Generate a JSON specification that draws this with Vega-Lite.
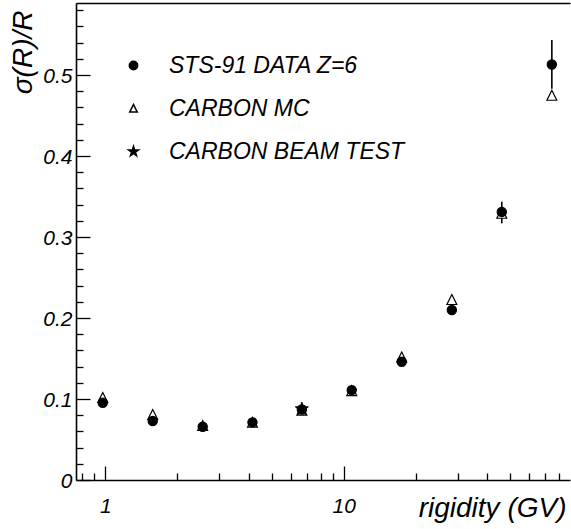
{
  "$schema": "https://vega.github.io/schema/vega-lite/v6.json",
  "width": 494,
  "height": 477,
  "autosize": {"type": "none"},
  "padding": {"left": 76, "top": 3, "right": 1, "bottom": 49},
  "background": "white",
  "config": {
    "view": {"stroke": null},
    "font": "Liberation Sans",
    "axis": {"grid": false, "domainColor": "black", "domainWidth": 1.6, "tickColor": "black", "tickWidth": 1.3, "labelColor": "black", "titleColor": "black", "labelFont": "Liberation Sans", "titleFont": "Liberation Sans"},
    "legend": {"title": null, "orient": "top-left", "offset": 51, "labelFontSize": 23, "labelFontStyle": "italic", "labelColor": "black", "labelOffset": 24, "symbolOffset": -5, "rowPadding": 19, "symbolSize": 70, "labelLimit": 400}
  },
  "datasets": {
    "pts": [
      {"series": "CARBON MC", "R": 0.975, "v": 0.1015},
      {"series": "CARBON MC", "R": 1.58, "v": 0.0805},
      {"series": "CARBON MC", "R": 2.56, "v": 0.067},
      {"series": "CARBON MC", "R": 4.14, "v": 0.071},
      {"series": "CARBON MC", "R": 6.67, "v": 0.086},
      {"series": "CARBON MC", "R": 10.8, "v": 0.110},
      {"series": "CARBON MC", "R": 17.5, "v": 0.1516},
      {"series": "CARBON MC", "R": 28.4, "v": 0.2225},
      {"series": "CARBON MC", "R": 46.0, "v": 0.329},
      {"series": "CARBON MC", "R": 74.6, "v": 0.4747},
      {"series": "STS-91 DATA Z=6", "R": 0.975, "v": 0.0954},
      {"series": "STS-91 DATA Z=6", "R": 1.58, "v": 0.0728},
      {"series": "STS-91 DATA Z=6", "R": 2.56, "v": 0.0658},
      {"series": "STS-91 DATA Z=6", "R": 4.14, "v": 0.0712},
      {"series": "STS-91 DATA Z=6", "R": 6.67, "v": 0.087},
      {"series": "STS-91 DATA Z=6", "R": 10.8, "v": 0.111},
      {"series": "STS-91 DATA Z=6", "R": 17.5, "v": 0.146},
      {"series": "STS-91 DATA Z=6", "R": 28.4, "v": 0.2099},
      {"series": "STS-91 DATA Z=6", "R": 46.0, "v": 0.331},
      {"series": "STS-91 DATA Z=6", "R": 74.6, "v": 0.513},
      {"series": "CARBON BEAM TEST", "R": 6.67, "v": 0.0877}
    ],
    "err": [
      {"R": 46.0, "lo": 0.3169, "hi": 0.3436},
      {"R": 74.6, "lo": 0.483, "hi": 0.5432}
    ]
  },
  "resolve": {"axis": {"x": "independent", "y": "independent"}},
  "layer": [
    {
      "data": {"name": "pts"},
      "mark": {"type": "point", "opacity": 0},
      "encoding": {
        "x": {"field": "R", "type": "quantitative", "scale": {"type": "log", "domain": [0.753, 88.9], "nice": false},
          "axis": {"orient": "bottom", "values": [0.8, 0.9, 2, 3, 4, 5, 6, 7, 8, 9, 20, 30, 40, 50, 60, 70, 80], "tickSize": -7, "labels": false, "domain": false, "title": null}},
        "y": {"field": "v", "type": "quantitative", "scale": {"domain": [0, 0.589], "nice": false, "zero": false},
          "axis": {"orient": "left", "values": [0.02, 0.04, 0.06, 0.08, 0.12, 0.14, 0.16, 0.18, 0.22, 0.24, 0.26, 0.28, 0.32, 0.34, 0.36, 0.38, 0.42, 0.44, 0.46, 0.48, 0.52, 0.54, 0.56, 0.58], "tickSize": -7, "labels": false, "domain": false, "title": null}}
      }
    },
    {
      "data": {"name": "pts"},
      "mark": {"type": "point", "opacity": 0},
      "encoding": {
        "x": {"field": "R", "type": "quantitative", "scale": {"type": "log", "domain": [0.753, 88.9], "nice": false},
          "axis": {"orient": "bottom", "values": [1, 10], "tickSize": -14, "labels": false, "domain": false, "title": null}},
        "y": {"field": "v", "type": "quantitative", "scale": {"domain": [0, 0.589], "nice": false, "zero": false},
          "axis": {"orient": "left", "values": [0, 0.1, 0.2, 0.3, 0.4, 0.5], "tickSize": -14, "labels": false, "domain": false, "title": null}}
      }
    },
    {
      "data": {"name": "err"},
      "mark": {"type": "rule", "color": "black", "strokeWidth": 1.6},
      "encoding": {
        "x": {"field": "R", "type": "quantitative", "scale": {"type": "log", "domain": [0.753, 88.9], "nice": false},
          "axis": {"orient": "top", "ticks": false, "labels": false, "domain": true, "title": null}},
        "y": {"field": "lo", "type": "quantitative", "scale": {"domain": [0, 0.589], "nice": false, "zero": false}, "axis": null},
        "y2": {"field": "hi"}
      }
    },
    {
      "data": {"name": "pts"},
      "transform": [{"filter": "datum.series === 'CARBON MC'"}],
      "mark": {"type": "point", "filled": true, "size": 121, "strokeWidth": 1.2, "opacity": 1},
      "encoding": {
        "x": {"field": "R", "type": "quantitative", "scale": {"type": "log", "domain": [0.753, 88.9], "nice": false},
          "axis": {"orient": "bottom", "values": [1, 10], "format": "d", "ticks": false, "labelFontSize": 21, "labelFontStyle": "italic", "labelPadding": 15, "labelBaseline": "top",
            "title": "rigidity (GV)", "titleFontSize": 28, "titleFontStyle": "italic", "titleFontWeight": "normal", "titleAlign": "right", "titleX": 490, "titleY": 36, "titleBaseline": "alphabetic"}},
        "y": {"field": "v", "type": "quantitative", "scale": {"domain": [0, 0.589], "nice": false, "zero": false},
          "axis": {"orient": "left", "values": [0, 0.1, 0.2, 0.3, 0.4, 0.5], "format": "~g", "ticks": false, "labelFontSize": 21, "labelFontStyle": "italic", "labelPadding": 4, "labelOffset": 1.5,
            "title": "σ(R)/R", "titleFontSize": 28, "titleFontStyle": "italic", "titleFontWeight": "normal", "titleAngle": 270, "titleAlign": "right", "titleBaseline": "alphabetic", "titleX": -45, "titleY": 7}},
        "shape": {"field": "series", "type": "nominal",
          "scale": {"domain": ["STS-91 DATA Z=6", "CARBON MC", "CARBON BEAM TEST"], "range": ["circle", "M0,-0.95L0.9,0.85L-0.9,0.85Z", "M0,-1.25L0.2806,-0.3863L1.1888,-0.3863L0.4541,0.1476L0.7347,1.0113L0,0.4775L-0.7347,1.0113L-0.4541,0.1476L-1.1888,-0.3863L-0.2806,-0.3863Z"]}},
        "fill": {"field": "series", "type": "nominal",
          "scale": {"domain": ["STS-91 DATA Z=6", "CARBON MC", "CARBON BEAM TEST"], "range": ["black", "white", "black"]}},
        "stroke": {"field": "series", "type": "nominal",
          "scale": {"domain": ["STS-91 DATA Z=6", "CARBON MC", "CARBON BEAM TEST"], "range": ["black", "black", "black"]}}
      }
    },
    {
      "data": {"name": "pts"},
      "transform": [{"filter": "datum.series === 'STS-91 DATA Z=6'"}],
      "mark": {"type": "point", "filled": true, "size": 85, "strokeWidth": 1.2, "opacity": 1},
      "encoding": {
        "x": {"field": "R", "type": "quantitative", "scale": {"type": "log", "domain": [0.753, 88.9], "nice": false}, "axis": null},
        "y": {"field": "v", "type": "quantitative", "scale": {"domain": [0, 0.589], "nice": false, "zero": false}, "axis": null},
        "shape": {"field": "series", "type": "nominal"},
        "fill": {"field": "series", "type": "nominal"},
        "stroke": {"field": "series", "type": "nominal"}
      }
    },
    {
      "data": {"name": "pts"},
      "transform": [{"filter": "datum.series === 'CARBON BEAM TEST'"}],
      "mark": {"type": "point", "filled": true, "size": 120, "strokeWidth": 1, "opacity": 1},
      "encoding": {
        "x": {"field": "R", "type": "quantitative", "scale": {"type": "log", "domain": [0.753, 88.9], "nice": false}, "axis": null},
        "y": {"field": "v", "type": "quantitative", "scale": {"domain": [0, 0.589], "nice": false, "zero": false}, "axis": null},
        "shape": {"field": "series", "type": "nominal"},
        "fill": {"field": "series", "type": "nominal"},
        "stroke": {"field": "series", "type": "nominal"}
      }
    }
  ]
}
